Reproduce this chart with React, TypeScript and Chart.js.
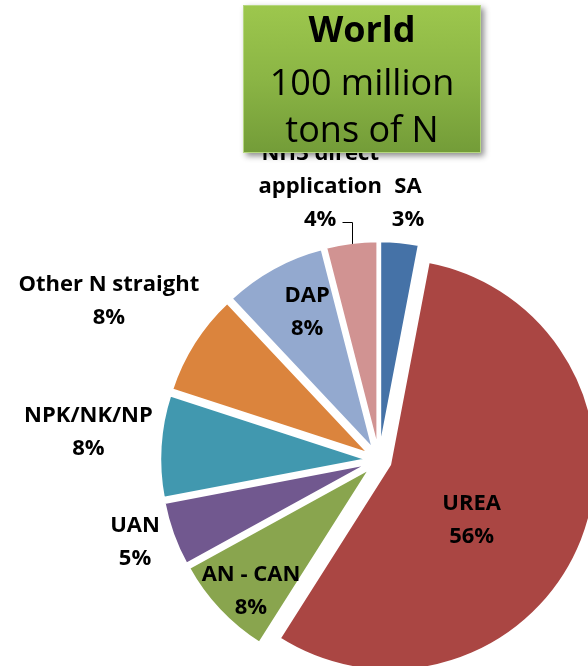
import React, { useEffect, useRef } from 'react';
import { Chart, registerables } from 'chart.js';

Chart.register(...registerables);

// ---- data ----
const categories = ['SA', 'UREA', 'AN - CAN', 'UAN', 'NPK/NK/NP', 'Other N straight', 'DAP', 'NH3 direct application'];
const shares = [3, 56, 8, 5, 8, 8, 8, 4];
const labelLines = [['SA'], ['UREA'], ['AN - CAN'], ['UAN'], ['NPK/NK/NP'], ['Other N straight'], ['DAP'], ['NH3 direct', 'application']];
const titleLines = ['World', '100 million', 'tons of N'];

// ---- styles ----
const sliceColors = ['#4572A7', '#AA4643', '#89A54E', '#71588F', '#4198AF', '#DB843D', '#93A9CF', '#D19392'];
const explode = [12.8, 12, 12.8, 12.8, 12.8, 12.8, 12.8, 12.8];
const labelShiftDeg = [1.05, 12.1, -2.3, 1.6, 2.2, -1.7, 3.3, -5.1];
const labelRadius = [1.207, 0.478, 0.826, 1.191, 1.362, 1.471, 0.745, 1.31];
const leader = [false, false, false, false, false, false, false, true];
const BORDER = 2;

const explodePlugin = {
  id: 'explodeSlices',
  beforeDatasetDraw(chart: any, args: any) {
    const ctx = chart.ctx;
    args.meta.data.forEach((arc: any, i: number) => {
      const p = arc.getProps(['startAngle', 'endAngle'], true);
      const mid = (p.startAngle + p.endAngle) / 2;
      const t = explode[i] || 0;
      ctx.save();
      ctx.translate(Math.cos(mid) * t, Math.sin(mid) * t);
      arc.draw(ctx, chart.chartArea);
      ctx.restore();
    });
    return false;
  },
};

const labelPlugin = {
  id: 'sliceLabels',
  afterDraw(chart: any) {
    const ctx = chart.ctx;
    const meta = chart.getDatasetMeta(0);
    const total = shares.reduce((a, b) => a + b, 0);
    ctx.save();
    ctx.font = 'bold 22px "Open Sans"';
    ctx.fillStyle = '#000';
    ctx.strokeStyle = '#000';
    ctx.lineWidth = 1;
    ctx.textAlign = 'center';
    ctx.textBaseline = 'alphabetic';
    const lh = 33;
    const capHalf = 7.85;
    meta.data.forEach((arc: any, i: number) => {
      const p = arc.getProps(['x', 'y', 'startAngle', 'endAngle', 'outerRadius'], true);
      const mid = (p.startAngle + p.endAngle) / 2;
      const t = explode[i] || 0;
      const cx = p.x + Math.cos(mid) * t;
      const cy = p.y + Math.sin(mid) * t;
      const R = p.outerRadius - BORDER / 2;
      const a = mid + (labelShiftDeg[i] * Math.PI) / 180;
      const lx = cx + Math.cos(a) * R * labelRadius[i];
      const ly = cy + Math.sin(a) * R * labelRadius[i];
      const lines = [...labelLines[i], Math.round((shares[i] / total) * 100) + '%'];
      lines.forEach((s, k) => {
        ctx.fillText(s, lx, ly - ((lines.length - 1) / 2) * lh + k * lh + capHalf);
      });
      if (leader[i]) {
        const lastY = ly + ((lines.length - 1) / 2) * lh + 4;
        const w = ctx.measureText(lines[lines.length - 1]).width;
        const ax = cx + Math.cos(mid) * R;
        const ay = cy + Math.sin(mid) * R;
        ctx.beginPath();
        ctx.moveTo(Math.round(lx + w / 2 + 6) + 0.5, Math.round(lastY) + 0.5);
        ctx.lineTo(Math.round(ax) + 0.5, Math.round(lastY) + 0.5);
        ctx.lineTo(Math.round(ax) + 0.5, ay);
        ctx.stroke();
      }
    });

    // title box
    const bx = 243, by = 5, bw = 238, bh = 148;
    ctx.save();
    ctx.shadowColor = 'rgba(0,0,0,0.45)';
    ctx.shadowBlur = 6;
    ctx.shadowOffsetX = 3;
    ctx.shadowOffsetY = 3;
    const g = ctx.createLinearGradient(0, by, 0, by + bh);
    g.addColorStop(0, '#9dc74d');
    g.addColorStop(0.5, '#8bb545');
    g.addColorStop(1, '#739c38');
    ctx.fillStyle = g;
    ctx.fillRect(bx, by, bw, bh);
    ctx.restore();
    ctx.strokeStyle = '#b5d77f';
    ctx.lineWidth = 1;
    ctx.strokeRect(bx + 0.5, by + 0.5, bw - 1, bh - 1);
    ctx.fillStyle = '#000';
    ctx.textAlign = 'center';
    const tx = bx + bw / 2;
    ctx.font = 'bold 36px "Open Sans"';
    ctx.fillText(titleLines[0], tx, 42);
    ctx.font = '36px "Open Sans"';
    ctx.fillText(titleLines[1], tx, 95);
    ctx.fillText(titleLines[2], tx, 142);
    ctx.restore();
  },
};

export default function App() {
  const ref = useRef<HTMLCanvasElement | null>(null);
  useEffect(() => {
    if (!ref.current) return;
    const chart = new Chart(ref.current, {
      type: 'pie',
      data: {
        labels: categories,
        datasets: [
          {
            data: shares,
            backgroundColor: sliceColors,
            borderColor: '#ffffff',
            borderWidth: BORDER,
            radius: 206,
            clip: false,
          } as any,
        ],
      },
      options: {
        responsive: false,
        animation: false,
        radius: 206,
        layout: { padding: { left: 170, right: 0, top: 254, bottom: 0 } },
        plugins: { legend: { display: false }, tooltip: { enabled: false }, title: { display: false } },
        events: [],
      } as any,
      plugins: [explodePlugin, labelPlugin],
    });
    return () => chart.destroy();
  }, []);
  return (
    <div style={{ position: 'fixed', left: 0, top: 0, width: 588, height: 666, overflow: 'hidden', background: '#fff' }}>
      <canvas ref={ref} width={588} height={666} style={{ display: 'block' }} />
    </div>
  );
}
